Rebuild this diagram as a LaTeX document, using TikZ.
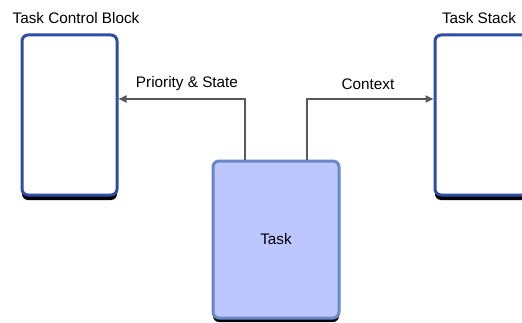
\documentclass[tikz,border=0pt]{standalone}
\usepackage{fontspec}
\setmainfont{Liberation Sans}
\usetikzlibrary{arrows.meta}
\definecolor{boxblue}{HTML}{2E4CA3}
\definecolor{taskedge}{HTML}{6A87C9}
\definecolor{taskfill}{HTML}{BCC6FF}
\definecolor{linegray}{HTML}{595959}
\tikzset{
  blockbox/.style={draw=boxblue, line width=3pt, fill=white, rounded corners=6pt, inner sep=0pt},
  taskbox/.style={draw=taskedge, line width=3pt, fill=taskfill, rounded corners=6pt, inner sep=0pt},
  conn/.style={draw=linegray, line width=2pt, -{Triangle[length=8pt,width=7pt]}},
  lbl/.style={inner sep=0pt, font=\fontsize{15.3}{17}\selectfont}
}
\begin{document}
\begin{tikzpicture}[x=1pt,y=1pt]
			%%%%% START %%%%%
			\useasboundingbox (0,0) rectangle (522,322);
			\clip (0,0) rectangle (522,322);
			
			% shadows
			\fill[black, rounded corners=6pt] (22,122) rectangle (117,283);
			\fill[black, rounded corners=6pt] (435,122) rectangle (530,283);
			\fill[black, rounded corners=6pt] (213,0) rectangle (339,157);
			
			% boxes
			\node[blockbox, minimum width=95pt, minimum height=160pt] (tcb) at (69.5,207) {};
			\node[blockbox, minimum width=95pt, minimum height=160pt] (stack) at (482.5,207) {};
			\node[taskbox, minimum width=126pt, minimum height=157pt] (task) at (276,82.5) {};
			\node[lbl] (tasklbl) at (task.center) {Task};
			
			% titles
			\node[lbl] (tcbtitle) at (76,304) {Task Control Block};
			\node[lbl] (stacktitle) at (479,304) {Task Stack};
			
			% connectors
			\draw[conn] ([xshift=-31pt]task.north) |- ([yshift=16pt]tcb.east);
			\draw[conn] ([xshift=31pt]task.north) |- ([yshift=16pt]stack.west);
			\node[lbl] (prio) at (187,238) {Priority \& State};
			\node[lbl] (ctx) at (368,238) {Context};
			
			%%%%% END %%%%%
\end{tikzpicture}
\end{document}
